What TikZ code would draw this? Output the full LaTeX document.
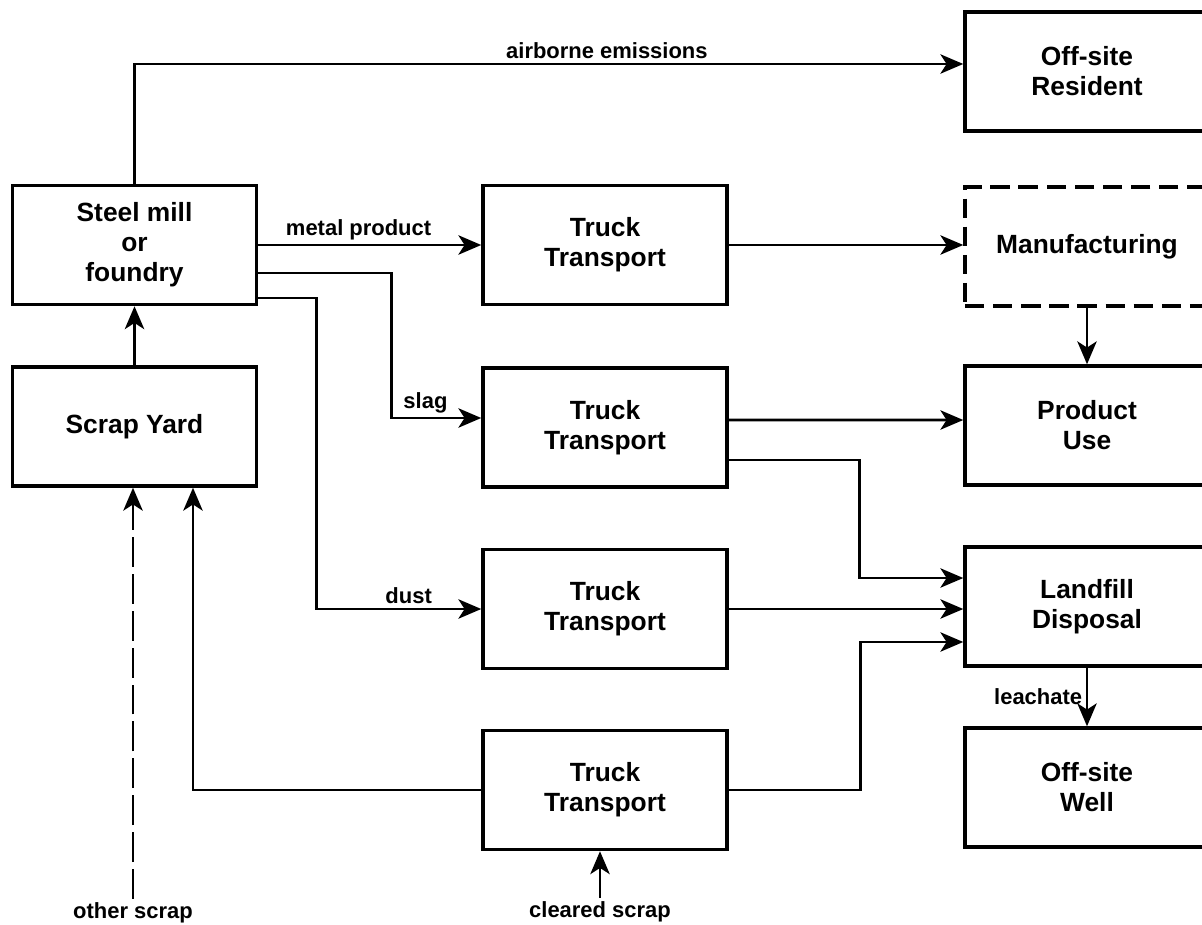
\documentclass[tikz,border=0pt]{standalone}
\usepackage{fontspec}
\setmainfont{Liberation Sans}
\usetikzlibrary{arrows.meta}

\begin{document}
\begin{tikzpicture}[x=0.02cm,y=-0.02cm,
    box/.style={draw,line width=2pt,minimum width=4.88cm,minimum height=2.38cm,
      align=center,font=\fontsize{15}{17}\selectfont\bfseries},
    flow/.style={line width=1.6pt,-{Stealth[length=13pt,width=11pt,inset=3.5pt]}},
    lbl/.style={font=\fontsize{12.5}{14}\selectfont\bfseries,inner sep=2pt}]
  \useasboundingbox (0,0) rectangle (1202,925);

  % mill and scrap yard
  \node[box] (mill) at (134.5,245) {Steel mill\\or\\foundry};
  \node[box] (yard) at (134.5,426.5) {Scrap Yard};

  % trucks
  \foreach \i/\y in {1/245,2/427.5,3/609,4/790}{
    \node[box] (t\i) at (605,\y) {Truck\\Transport};
  }

  % receptors
  \node[box] (res) at (1087,71.5) {Off-site\\Resident};
  \node[box,dash pattern=on 11pt off 5pt] (manu) at (1087,246.5) {Manufacturing};
  \node[box] (use) at (1087,425.5) {Product\\Use};
  \node[box] (land) at (1087,606.5) {Landfill\\Disposal};
  \node[box] (well) at (1087,787.5) {Off-site\\Well};

  \node[lbl] (other) at (133,913) {other scrap};
  \node[lbl] (clear) at (600,912) {cleared scrap};

  % flows
  \draw[flow] (mill.north) |- ([yshift=0.15cm]res.west)
    node[lbl,pos=0.785,above] {airborne emissions};
  \draw[flow] (mill.east) -- (t1.west) node[lbl,pos=0.45,above] {metal product};
  \draw[flow] ([yshift=-0.56cm]mill.east) -- ++(133,0) |- ([yshift=0.19cm]t2.west)
    node[lbl,pos=0.69,above] {slag};
  \draw[flow] ([yshift=-1.06cm]mill.east) -- ++(58,0) |- (t3.west)
    node[lbl,pos=0.78,above] {dust};
  \draw[flow] (yard.north) -- (mill.south);
  \draw[flow,dash pattern=on 17pt off 4pt] (other.north) -- (other.north |- yard.south);
  \draw[flow] (t4.west) -| ([xshift=1.17cm]yard.south);
  \draw[flow] (clear.north) -- (clear.north |- t4.south);

  \draw[flow] (t1.east) -- (t1.east -| manu.west);
  \draw[flow] ([yshift=0.15cm]t2.east) -- ([yshift=0.11cm]use.west);
  \draw[flow] ([yshift=-0.65cm]t2.east) -- ++(131,0) |- ([yshift=0.57cm]land.west);
  \draw[flow] (t3.east) -- (t3.east -| land.west);
  \draw[flow] (t4.east) -- ++(132,0) |- ([yshift=-0.71cm]land.west);

  \draw[flow] (manu.south) -- (use.north);
  \draw[flow] (land.south) -- (well.north) node[lbl,midway,left] {leachate};
\end{tikzpicture}
\end{document}
